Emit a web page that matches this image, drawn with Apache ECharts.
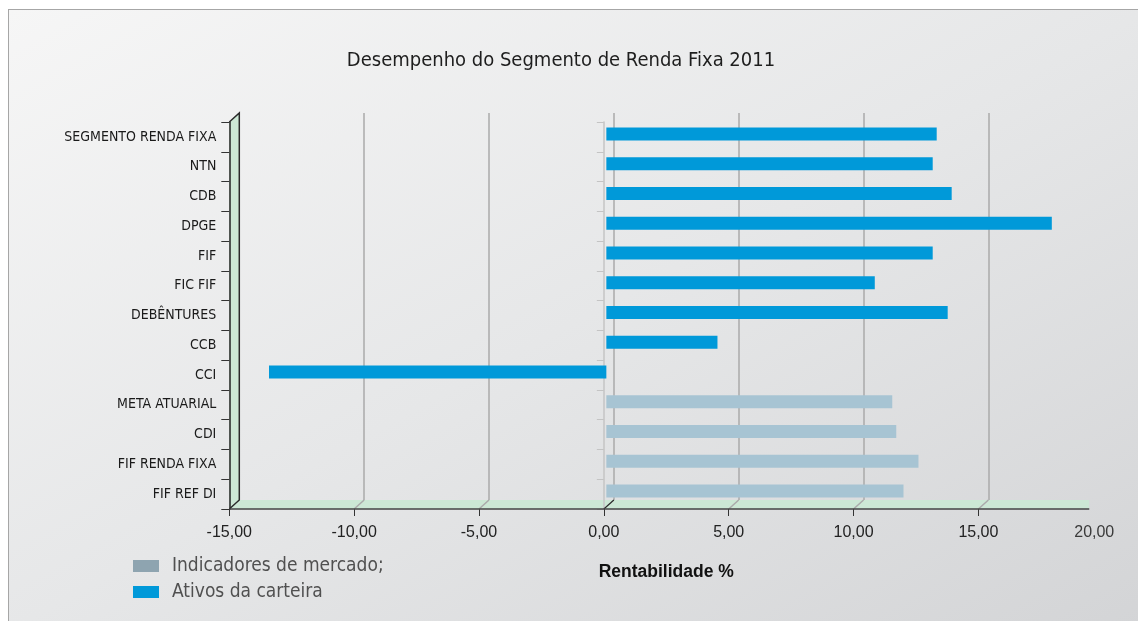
<!DOCTYPE html>
<html><head><meta charset="utf-8">
<script src="https://cdn.jsdelivr.net/npm/echarts@6/dist/echarts.min.js"></script>
<style>
html,body{margin:0;padding:0;background:#fff;width:1138px;height:621px;overflow:hidden}
#frame{position:absolute;left:8px;top:9px;width:1140px;height:620px;border-top:1px solid #a6a6a6;border-left:1px solid #a6a6a6;background:linear-gradient(to bottom right,#f6f6f6 0%,#e6e7e8 50%,#d3d4d6 100%)}
#chart{position:absolute;left:0;top:0;width:1138px;height:621px}
</style></head>
<body><div id="frame"></div><div id="chart"></div>
<script>
const categories = ['SEGMENTO RENDA FIXA','NTN','CDB','DPGE','FIF','FIC FIF','DEBÊNTURES','CCB','CCI','META ATUARIAL','CDI','FIF RENDA FIXA','FIF REF DI'];
const ativos = [13.23, 13.07, 13.83, 17.84, 13.07, 10.75, 13.67, 4.45, -13.51, null, null, null, null];
const indicadores = [null, null, null, null, null, null, null, null, null, 11.45, 11.61, 12.50, 11.90];
const tickValues = [-15, -10, -5, 0, 5, 10, 15, 20];
const xMin = -15, xMax = 20, xStep = 5;

const fmt = v => v.toFixed(2).replace('.', ',');
const chart = echarts.init(document.getElementById('chart'), null, {renderer:'canvas'});
const narrow = '"Liberation Sans Narrow", "DejaVu Sans Condensed", sans-serif';
const sans = '"Liberation Sans", Arial, sans-serif';

const hiddenCat = {type:'category', data:categories, inverse:true, show:false};
const option = {
  animation:false,
  title:{text:'Desempenho do Segmento de Renda Fixa 2011', left:556, textAlign:'center', top:46,
    textStyle:{fontFamily:narrow, fontSize:20, fontWeight:'normal', color:'#1e1e1e'}},
  legend:{orient:'vertical', left:133, top:556, padding:0, itemWidth:26, itemHeight:12, itemGap:6,
    icon:'rect',
    textStyle:{fontFamily:narrow, fontSize:19, lineHeight:20, color:'#505050', padding:[0,0,0,8]},
    data:[{name:'Indicadores de mercado;', itemStyle:{color:'#8ea4b0'}},
          {name:'Ativos da carteira', itemStyle:{color:'#0099d9'}}]},
  grid:[
    {left:229.3, right:34.75, top:122, bottom:112},
    {left:231.8, right:32.25, top:119, bottom:115},
    {left:239.3, right:24.75, top:113, bottom:121}
  ],
  xAxis:[
    {gridIndex:0, type:'value', min:xMin, max:xMax, interval:xStep,
     axisLine:{show:false}, splitLine:{show:false},
     axisTick:{show:true, length:7, lineStyle:{color:'#333'}, customValues:tickValues.slice(0,-1)},
     axisLabel:{fontFamily:sans, fontSize:16, color:'#222', margin:16, customValues:tickValues,
       formatter:v => v === xMax ? '{m|' + fmt(v) + '}' : fmt(v),
       rich:{m:{fontFamily:sans, fontSize:16, color:'#3a3a3a', padding:[0,18,0,0]}}},
     name:'Rentabilidade %', nameLocation:'middle', nameGap:54,
     nameTextStyle:{fontFamily:sans, fontSize:17.5, fontWeight:'bold', color:'#111'}},
    {gridIndex:1, type:'value', min:xMin, max:xMax, interval:xStep, show:false},
    {gridIndex:2, type:'value', min:xMin, max:xMax, interval:xStep,
     axisLine:{show:false}, axisTick:{show:false}, axisLabel:{show:false},
     splitLine:{show:true, showMinLine:false, showMaxLine:false, lineStyle:{color:'#aaaaaa', width:1.5}}}
  ],
  yAxis:[
    {gridIndex:0, type:'category', data:categories, inverse:true,
     axisLine:{show:true, onZero:false, lineStyle:{color:'#222', width:1.5}},
     axisTick:{show:true, length:8, lineStyle:{color:'#333'}},
     axisLabel:{fontFamily:narrow, fontSize:14, color:'#1a1a1a', margin:13}},
    {gridIndex:0, type:'category', data:categories, inverse:true, position:'left',
     axisLine:{show:true, onZero:true, onZeroAxisIndex:0, lineStyle:{color:'#c4c4c4', width:1.5}},
     axisTick:{show:true, length:7, lineStyle:{color:'#c4c4c4'}},
     axisLabel:{show:false}},
    Object.assign({gridIndex:1}, hiddenCat),
    Object.assign({gridIndex:2}, hiddenCat)
  ],
  series:[
    {name:'Indicadores de mercado;', type:'bar', xAxisIndex:1, yAxisIndex:2, data:indicadores,
     barWidth:13, barGap:'-100%', itemStyle:{color:'#a7c4d3'}, z:5},
    {name:'Ativos da carteira', type:'bar', xAxisIndex:1, yAxisIndex:2, data:ativos,
     barWidth:13, barGap:'-100%', itemStyle:{color:'#0099d9'}, z:5}
  ]
};
chart.setOption(option);

// 3D wall / floor decoration derived from the axes
const rect = i => chart.getModel().getComponent('grid', i).coordinateSystem.getRect();
const fr = rect(0), bk = rect(2);
const px = (axis, v) => chart.convertToPixel({xAxisIndex:axis}, v);
const floorEnd = px(0, xMax) - 14;
const g = [];
const green = '#cce8d5';
g.push({type:'polygon', z:-1, shape:{points:[[fr.x, fr.y+fr.height],[fr.x, fr.y],[bk.x, bk.y],[bk.x, bk.y+bk.height]]}, style:{fill:green}});
g.push({type:'polygon', z:-1, shape:{points:[[fr.x, fr.y+fr.height],[bk.x, bk.y+bk.height],[floorEnd, bk.y+bk.height],[floorEnd, fr.y+fr.height]]}, style:{fill:green}});
const dark = {stroke:'#2a2a2a', lineWidth:1.5};
g.push({type:'polyline', z:10, shape:{points:[[fr.x, fr.y],[bk.x, bk.y],[bk.x, bk.y+bk.height],[fr.x, fr.y+fr.height]]}, style:Object.assign({fill:null}, dark)});
g.push({type:'line', z:10, shape:{x1:fr.x, y1:fr.y+fr.height, x2:floorEnd, y2:fr.y+fr.height}, style:{stroke:'#444', lineWidth:1.5}});
tickValues.slice(1,-1).forEach(v => {
  g.push({type:'line', z:1, shape:{x1:px(0,v), y1:fr.y+fr.height, x2:px(2,v), y2:bk.y+bk.height},
    style:{stroke: v===0 ? '#2a2a2a' : '#aaaaaa', lineWidth: v===0 ? 1.2 : 1.5}});
});
chart.setOption({graphic:g});
</script></body></html>
